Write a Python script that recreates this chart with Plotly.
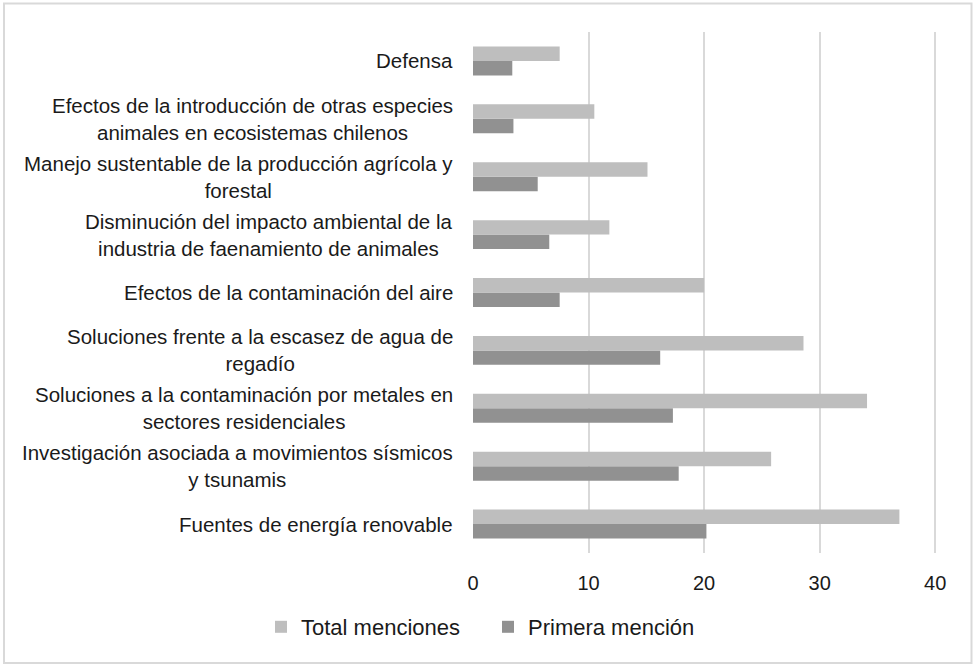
import plotly.graph_objects as go

# Research topics, listed top to bottom as displayed
categories = [
    "Defensa",
    "Efectos de la introducción de otras especies<br>animales en ecosistemas chilenos",
    "Manejo sustentable de la producción agrícola y<br>forestal",
    "Disminución del impacto ambiental de la<br>industria de faenamiento de animales",
    "Efectos de la contaminación del aire",
    "Soluciones frente a la escasez de agua de<br>regadío",
    "Soluciones a la contaminación por metales en<br>sectores residenciales",
    "Investigación asociada a movimientos sísmicos<br>y tsunamis",
    "Fuentes de energía renovable",
]
total_menciones = [7.5, 10.5, 15.1, 11.8, 20.0, 28.6, 34.1, 25.8, 36.9]
primera_mencion = [3.4, 3.5, 5.6, 6.6, 7.5, 16.2, 17.3, 17.8, 20.2]
x_ticks = [0, 10, 20, 30, 40]

FONT = "Liberation Sans, Arial, sans-serif"
TEXT = "#1a1a1a"

fig = go.Figure()
# first trace sits lower inside each group
fig.add_trace(go.Bar(
    y=categories, x=primera_mencion, orientation="h",
    name="Primera mención", marker=dict(color="#919191", line_width=0),
    legendrank=2,
))
fig.add_trace(go.Bar(
    y=categories, x=total_menciones, orientation="h",
    name="Total menciones", marker=dict(color="#bebebe", line_width=0),
    legendrank=1,
))

# category labels as centred multi-line annotations
for c in categories:
    fig.add_annotation(
        x=-0.039, xref="paper", y=c, yref="y",
        text=c, showarrow=False, xanchor="right", yanchor="middle",
        align="center", font=dict(family=FONT, size=20.5, color=TEXT),
    )

L, R, T, B = 473, 34, 32, 112
W, H = 975, 665
pw, ph = W - L - R, H - T - B

def px_x(p):
    return (p - L) / pw

def px_y(p):
    return (H - B - p) / ph

# outer frame around the whole chart
fig.add_shape(
    type="rect", xref="paper", yref="paper",
    x0=px_x(4), x1=px_x(971.5), y0=px_y(663), y1=px_y(3.5),
    line=dict(color="#d9d9d9", width=2), fillcolor="rgba(0,0,0,0)",
    layer="below",
)

fig.update_layout(
    width=W, height=H,
    margin=dict(l=L, r=R, t=T, b=B),
    paper_bgcolor="white", plot_bgcolor="white",
    barmode="group", bargap=0.5, bargroupgap=0,
    font=dict(family=FONT, size=20, color=TEXT),
    legend=dict(
        orientation="h", x=px_x(488), xanchor="center",
        y=px_y(627), yanchor="middle",
        font=dict(family=FONT, size=22, color=TEXT),
        itemwidth=30, traceorder="normal", entrywidth=182,
    ),
    xaxis=dict(
        range=[0, 40.5], tickvals=x_ticks, showgrid=True,
        gridcolor="#d9d9d9", gridwidth=2, zeroline=False,
        showline=False, ticks="", ticklabelstandoff=16,
        tickfont=dict(family=FONT, size=20, color=TEXT),
    ),
    yaxis=dict(
        categoryorder="array", categoryarray=list(reversed(categories)),
        showticklabels=False, showgrid=False, zeroline=False, ticks="",
    ),
)

fig.write_html("out.html")
